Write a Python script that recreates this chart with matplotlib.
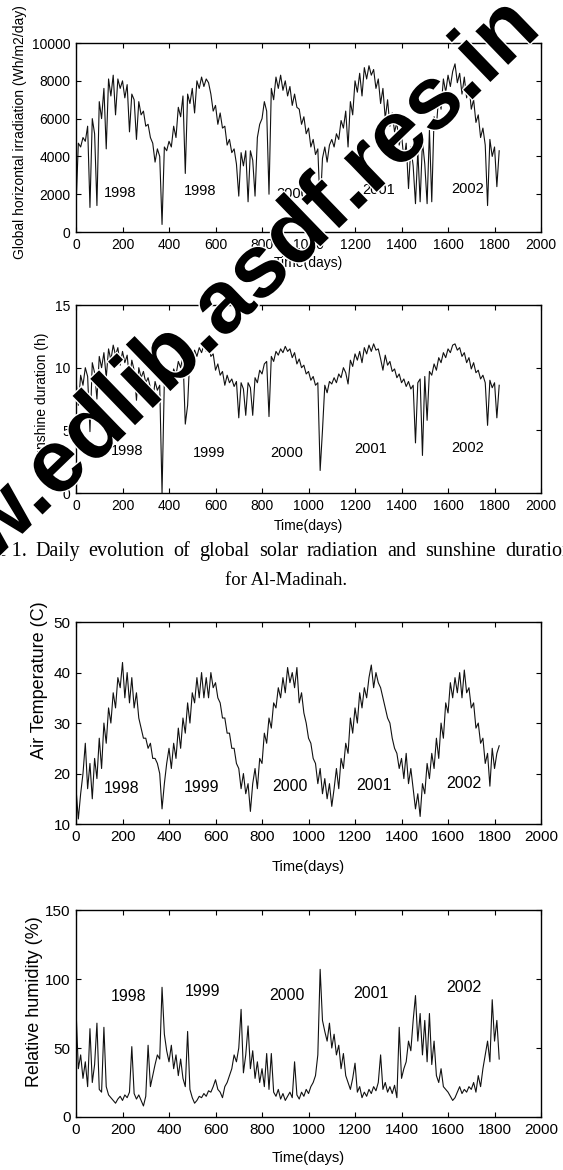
import numpy as np
import matplotlib.pyplot as plt
import matplotlib.patheffects as pe

# day index of each sample (one reading every 10 days, 1998-2002)
DAYS = np.arange(0, 1830, 10)

GHI = [
    1300, 4700, 4500, 5000, 4800, 5600, 1300, 6000, 5200, 1400, 6900, 6000, 7600, 4400, 8100, 7200, 8300, 6200, 8100,
    7600, 8000, 7100, 7800, 5300, 7300, 7000, 4900, 6900, 6200, 6400, 5600, 5700, 5000, 4700, 3700, 4400, 4000,
    400, 4500, 4300, 4800, 4500, 5600, 5000, 6600, 6100, 7200, 3100, 7300, 6800, 7600, 6300, 8000, 7600, 8200, 7700,
    8100, 7900, 7300, 6400, 6700, 5700, 6300, 5500, 5600, 4600, 4900, 4200, 4400, 3600, 1900, 4200, 3500, 4300,
    1600, 4300, 3800, 1900, 5000, 5700, 6000, 6900, 6400, 2000, 7600, 7000, 8200, 7600, 8300, 7500, 8000, 7200,
    7700, 6700, 7300, 6600, 6500, 5700, 6100, 5200, 5500, 4500, 4900, 4100, 4400, 1200, 3900, 4500, 3700, 4600,
    4900, 4500, 5200, 4900, 5900, 5500, 6400, 4500, 6900, 6200, 8000, 7400, 8400, 7200, 8700, 8100, 8800, 8300,
    8600, 7600, 8100, 6800, 7600, 6000, 7000, 5600, 6300, 5300, 5800, 4600, 5200, 3800, 4700, 2300, 4500, 3500, 1500,
    4300, 1600, 4800, 3600, 1500, 5400, 1600, 6100, 5600, 7200, 6500, 8100, 7400, 8300, 7700, 8500, 8900, 7900,
    8400, 7300, 8200, 7100, 7800, 6500, 7000, 5800, 6200, 5000, 5500, 4600, 1400, 4900, 4000, 4500, 2400, 4300,
]

SUNSHINE = [
    9.0, 7.0, 9.4, 8.6, 10.0, 9.3, 4.9, 10.4, 9.6, 7.5, 10.9, 10.0, 11.2, 9.2, 11.5, 10.6, 11.8, 11.0, 11.6,
    10.2, 11.3, 10.4, 11.0, 9.0, 10.6, 9.8, 7.4, 10.0, 9.2, 9.7, 8.8, 9.2, 8.4, 7.3, 8.9, 8.2, 8.6,
    0.0, 9.0, 8.6, 9.4, 8.9, 9.9, 9.4, 10.5, 10.0, 10.9, 5.5, 7.0, 11.1, 10.6, 11.4, 10.9, 11.6, 11.2, 11.8,
    11.3, 11.9, 10.9, 11.1, 9.8, 10.3, 9.4, 9.7, 8.6, 9.4, 8.8, 9.1, 8.5, 8.9, 6.0, 8.8, 8.3, 6.2,
    8.8, 8.4, 6.2, 9.2, 8.8, 9.8, 9.5, 10.3, 10.5, 6.1, 10.9, 10.5, 11.3, 11.0, 11.5, 11.2, 11.7, 11.3,
    11.5, 10.8, 11.2, 10.3, 10.7, 10.0, 10.2, 9.5, 9.7, 9.0, 9.3, 8.6, 8.8, 1.8, 5.0, 8.6, 8.0, 8.9,
    8.7, 9.2, 8.8, 9.5, 9.2, 10.0, 9.6, 8.7, 10.6, 10.1, 11.1, 10.6, 11.3, 10.4, 11.6, 11.1, 11.8, 11.3,
    11.9, 11.4, 11.5, 10.7, 9.8, 11.0, 10.2, 10.5, 9.7, 9.9, 9.2, 9.5, 8.8, 9.1, 8.5, 8.9, 8.3, 8.6, 4.0,
    8.8, 9.1, 3.0, 9.3, 5.8, 9.7, 9.4, 10.3, 9.8, 10.8, 10.4, 11.2, 10.8, 11.5, 11.2, 11.8, 11.9, 11.4,
    11.6, 10.9, 11.2, 10.4, 10.8, 9.9, 10.4, 9.6, 9.8, 9.1, 9.4, 8.8, 5.4, 9.0, 8.4, 8.8, 6.0, 8.6,
]

AIR_TEMP = [
    17, 11, 16, 20, 26, 17, 22, 15, 23, 19, 27, 21, 30, 26, 33, 30, 36, 33, 39,
    37, 42, 35, 40, 34, 39, 33, 36, 31, 29, 27, 27, 25, 26, 23, 23, 22, 20,
    13, 18, 22, 25, 21, 26, 23, 29, 25, 31, 28, 34, 30, 36, 34, 39, 35, 40, 35,
    39, 35, 40, 37, 38, 35, 34, 31, 31, 28, 28, 25, 25, 22, 21, 17, 20, 16,
    18, 12.5, 18, 21, 17, 23, 22, 28, 26, 31, 29, 34, 33, 37, 35, 39, 36, 41,
    38, 40, 37, 41, 34, 36, 32, 30, 27, 26, 23, 22, 18, 21, 16, 19, 15, 18,
    13.5, 17, 21, 17, 23, 21, 26, 24, 31, 28, 33, 30, 36, 33, 37, 35, 39, 41.5,
    37, 40, 38, 37, 35, 33, 31, 30, 27, 25, 24, 21, 23, 19, 24, 18, 21, 17, 13,
    16, 11.5, 18, 16, 22, 19, 24, 21, 27, 23, 30, 27, 34, 32, 38, 35, 39, 36,
    40, 35, 40.5, 36, 37, 33, 34, 29, 30, 26, 27, 22, 24, 17.5, 25, 21, 24, 25.5,
]

HUMIDITY = [
    78, 35, 45, 28, 40, 22, 64, 25, 38, 68, 20, 18, 65, 22, 16, 14, 12, 10, 13,
    15, 12, 16, 14, 18, 51, 17, 13, 16, 12, 8, 15, 52, 22, 30, 38, 45, 42,
    94, 60, 48, 40, 52, 35, 45, 30, 42, 28, 22, 62, 20, 14, 10, 12, 15, 14, 17,
    15, 19, 18, 22, 27, 20, 18, 14, 22, 25, 30, 35, 45, 40, 50, 78, 32, 45,
    66, 35, 48, 28, 40, 25, 35, 22, 46, 20, 46, 18, 15, 20, 13, 17, 12, 15,
    18, 14, 40, 16, 13, 18, 15, 20, 17, 22, 25, 30, 45, 107, 70, 62, 55, 68,
    50, 60, 45, 52, 35, 46, 30, 25, 20, 28, 39, 18, 22, 14, 18, 15, 20, 17,
    22, 19, 25, 45, 20, 25, 18, 22, 17, 23, 14, 65, 28, 35, 40, 55, 48, 70, 88,
    55, 75, 45, 70, 40, 75, 38, 55, 30, 25, 35, 22, 20, 18, 15, 12, 14, 18,
    22, 17, 20, 18, 22, 20, 25, 18, 30, 22, 35, 45, 55, 40, 85, 55, 70, 42,
]

YEARS_TOP = ["1998", "1998", "2000", "2001", "2002"]
YEARS = ["1998", "1999", "2000", "2001", "2002"]

SANS = ["Liberation Sans", "DejaVu Sans"]
SERIF = ["Liberation Serif", "DejaVu Serif"]

W, H = 563, 1170
fig = plt.figure(figsize=(W / 100, H / 100), dpi=100)

panels = [
    dict(values=GHI, rect=(0.135, 0.8017, 0.826, 0.1615), ylim=(0, 10000),
         yticks=[0, 2000, 4000, 6000, 8000, 10000],
         ylabel="Global horizontal irradiation (Wh/m2/day)", ylab_pos=(-0.12, 0.53), ylab_size=10,
         years=YEARS_TOP, year_x=[189, 533, 933, 1300, 1683], year_y=[2060, 2170, 2000, 2200, 2270],
         tick_size=10, year_size=10.5, xlab_y=-0.164, xlab_size=10),
    dict(values=SUNSHINE, rect=(0.135, 0.5786, 0.826, 0.1607), ylim=(0, 15),
         yticks=[0, 5, 10, 15],
         ylabel="Sunshine duration (h)", ylab_pos=(-0.073, 0.5), ylab_size=10,
         years=YEARS, year_x=[220, 572, 908, 1268, 1683], year_y=[3.37, 3.2, 3.2, 3.5, 3.6],
         tick_size=10, year_size=10.5, xlab_y=-0.176, xlab_size=10),
    dict(values=AIR_TEMP, rect=(0.135, 0.2957, 0.826, 0.1726), ylim=(10, 50),
         yticks=[10, 20, 30, 40, 50],
         ylabel="Air Temperature (C)", ylab_pos=(-0.078, 0.71), ylab_size=13,
         years=YEARS, year_x=[198, 538, 920, 1282, 1669], year_y=[17.1, 17.3, 17.5, 17.6, 18.0],
         tick_size=11, year_size=11.5, xlab_y=-0.213, xlab_size=10.5),
    dict(values=HUMIDITY, rect=(0.135, 0.0453, 0.826, 0.1769), ylim=(0, 150),
         yticks=[0, 50, 100, 150],
         ylabel="Relative humidity (%)", ylab_pos=(-0.09, 0.556), ylab_size=13,
         years=YEARS, year_x=[228, 542, 908, 1268, 1668], year_y=[87, 91, 88, 89.5, 93.5],
         tick_size=11, year_size=11.5, xlab_y=-0.198, xlab_size=10.5),
]

for p in panels:
    assert len(p["values"]) == len(DAYS)
    ax = fig.add_axes(p["rect"])
    ax.plot(DAYS, p["values"], color="#111111", lw=0.8)
    ax.set_xlim(0, 2000)
    ax.set_ylim(*p["ylim"])
    ax.set_xticks(np.arange(0, 2001, 200))
    ax.set_yticks(p["yticks"])
    ax.tick_params(direction="in", top=True, right=True, length=3.5, width=0.8, pad=4)
    for lab in ax.get_xticklabels() + ax.get_yticklabels():
        lab.set_family(SANS)
        lab.set_fontsize(p["tick_size"])
    for s in ax.spines.values():
        s.set_linewidth(1.0)

    ax.set_xlabel("Time(days)", family=SANS, fontsize=p["xlab_size"], va="center")
    ax.xaxis.set_label_coords(0.5, p["xlab_y"])
    ax.set_ylabel(p["ylabel"], family=SANS, fontsize=p["ylab_size"], va="center")
    ax.yaxis.set_label_coords(*p["ylab_pos"])

    for txt, x, y in zip(p["years"], p["year_x"], p["year_y"]):
        ax.text(x, y, txt, ha="center", va="center", family=SANS, fontsize=p["year_size"])

# caption between the two figures; the first line is justified, so spread its words
renderer = fig.canvas.get_renderer()
cap_size = 14.5
fig.text(27 / W, 1 - 556 / H, "Figure 1.", ha="right", va="baseline", family=SERIF, fontsize=cap_size)
words = "Daily evolution of global solar radiation and sunshine duration".split()
word_texts = [fig.text(0, 1 - 556 / H, w, ha="left", va="baseline", family=SERIF, fontsize=cap_size)
              for w in words]
widths = [t.get_window_extent(renderer).width for t in word_texts]
x0, x1 = 35, 572
gap = (x1 - x0 - sum(widths)) / (len(words) - 1)
x = x0
for t, w in zip(word_texts, widths):
    t.set_x(x / W)
    x += w + gap
fig.text(286 / W, 1 - 585 / H, "for Al-Madinah.", ha="center", va="baseline", family=SERIF, fontsize=13.5)

# diagonal watermark over the upper figure
fig.text(217 / W, 1 - 346 / H, "www.edlib.asdf.res.in", rotation=44, rotation_mode="anchor",
         ha="center", va="baseline", family=SANS, fontweight="bold", fontsize=64, color="black",
         path_effects=[pe.withStroke(linewidth=2, foreground="white")], zorder=20)

fig.savefig("out.png", dpi=100)
